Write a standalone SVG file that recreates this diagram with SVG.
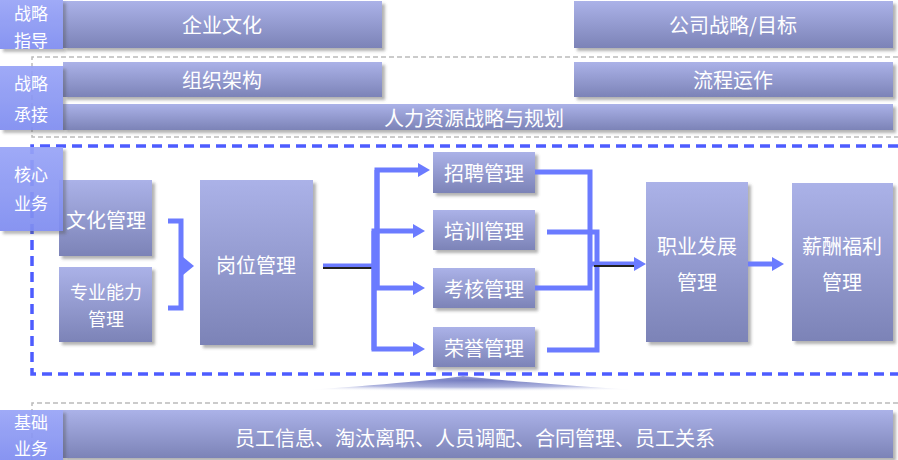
<svg xmlns="http://www.w3.org/2000/svg" width="898" height="460" viewBox="0 0 898 460">
<defs>
  <linearGradient id="gBox" x1="0" y1="0" x2="0" y2="1">
    <stop offset="0" stop-color="#abb2e8"/>
    <stop offset="1" stop-color="#7c83b7"/>
  </linearGradient>
  <linearGradient id="gLbl" x1="0" y1="0" x2="0" y2="1">
    <stop offset="0" stop-color="#97a3f7"/>
    <stop offset="1" stop-color="#7e8cf0"/>
  </linearGradient>
  <radialGradient id="gTri" cx="0.5" cy="0.2" r="0.55">
    <stop offset="0" stop-color="#747cc0" stop-opacity="1"/>
    <stop offset="0.6" stop-color="#9fa6d8" stop-opacity="0.85"/>
    <stop offset="1" stop-color="#ffffff" stop-opacity="0"/>
  </radialGradient>
  <filter id="sh" x="-10%" y="-10%" width="130%" height="130%">
    <feDropShadow dx="3" dy="3" stdDeviation="1.5" flood-color="#555" flood-opacity="0.45"/>
  </filter>
  <marker id="ah" markerUnits="userSpaceOnUse" markerWidth="12" markerHeight="14" viewBox="0 0 12 14" refX="0" refY="7" orient="auto">
    <path d="M0,0 L12,7 L0,14 z" fill="#6b7bff"/>
  </marker>
</defs>
<style>
  .box{fill:url(#gBox);filter:url(#sh)}
  .lbl{fill:url(#gLbl);filter:url(#sh);opacity:.92}
  .t{font-family:"Noto Sans CJK SC","Noto Sans",sans-serif;fill:#fff;font-size:20px;text-anchor:middle;dominant-baseline:central}
  .tl{font-size:17px}
  .ts{font-size:18px}
  .c{fill:none;stroke:#6b7bff;stroke-width:5}
  .ca{fill:none;stroke:#6b7bff;stroke-width:5;marker-end:url(#ah)}
  .dk{fill:none;stroke:#222;stroke-width:2}
  .gd{fill:none;stroke:#bbb;stroke-width:1.5;stroke-dasharray:5 3}
  .bd{fill:none;stroke:#4d5cff;stroke-width:3.5;stroke-dasharray:10 6}
</style>

<g id="frames">
  <path class="gd" d="M898,57 H32 V137 H898"/>
  <path class="gd" d="M898,403 H32 V460"/>
  <path class="bd" d="M898,146 H32 V374 H898"/>
  <path d="M195,397 Q400,385 463,376 Q540,385 748,397 Z" fill="url(#gTri)"/>
</g>

<g id="n-qywh"><rect class="box" x="63" y="1" width="319" height="47"/><text class="t" x="222" y="24">企业文化</text></g>
<g id="n-gszl"><rect class="box" x="574" y="1" width="319" height="47"/><text class="t" x="733" y="24">公司战略/目标</text></g>
<g id="n-zzjg"><rect class="box" x="63" y="62" width="319" height="35"/><text class="t" x="222" y="79">组织架构</text></g>
<g id="n-lcyz"><rect class="box" x="574" y="62" width="319" height="35"/><text class="t" x="733" y="79">流程运作</text></g>
<g id="n-rlzy"><rect class="box" x="63" y="104" width="830" height="26"/><text class="t" x="474" y="117">人力资源战略与规划</text></g>

<g id="n-whgl"><rect class="box" x="59" y="180" width="93" height="76"/><text class="t" x="106" y="219">文化管理</text></g>
<g id="n-zynl"><rect class="box" x="59" y="267" width="93" height="75"/><text class="t ts" x="106" y="291">专业能力</text><text class="t ts" x="106" y="318">管理</text></g>
<g id="n-gwgl"><rect class="box" x="200" y="180" width="113" height="165"/><text class="t" x="256" y="264">岗位管理</text></g>
<g id="n-zpgl"><rect class="box" x="433" y="152" width="102" height="41"/><text class="t" x="484" y="172">招聘管理</text></g>
<g id="n-pxgl"><rect class="box" x="433" y="210" width="102" height="40"/><text class="t" x="484" y="230">培训管理</text></g>
<g id="n-khgl"><rect class="box" x="433" y="268" width="102" height="40"/><text class="t" x="484" y="288">考核管理</text></g>
<g id="n-rygl"><rect class="box" x="433" y="327" width="102" height="40"/><text class="t" x="484" y="347">荣誉管理</text></g>
<g id="n-zyfz"><rect class="box" x="646" y="182" width="102" height="160"/><text class="t" x="697" y="245">职业发展</text><text class="t" x="697" y="281">管理</text></g>
<g id="n-xcfl"><rect class="box" x="792" y="183" width="101" height="158"/><text class="t" x="842" y="245">薪酬福利</text><text class="t" x="842" y="281">管理</text></g>
<g id="n-jcyw"><rect class="box" x="63" y="410" width="830" height="48"/><text class="t" x="475" y="437">员工信息、淘汰离职、人员调配、合同管理、员工关系</text></g>

<g id="connectors">
  <path class="c" d="M168,221 H181 V308 H168"/>
  <polygon points="183,257 194,266 183,275" fill="#6b7bff"/>
  <path class="c" d="M323,266 H377"/>
  <path class="dk" d="M323,268 H375"/>
  <path class="ca" d="M377,288 V170 H418"/>
  <path class="ca" d="M377,170 V288 H413"/>
  <path class="ca" d="M374,350 V231 H413"/>
  <path class="ca" d="M374,231 V349 H413"/>
  <path class="c" d="M535,172 H590 V288 H535"/>
  <path class="c" d="M547,232 H597 V350 H547"/>
  <path class="ca" d="M592,264 H634"/>
  <path class="dk" d="M594,266 H634"/>
  <path class="ca" d="M748,264 H772"/>
</g>

<g id="labels">
  <g id="l-zlzd"><rect class="lbl" x="0" y="0" width="63" height="49"/><text class="t tl" x="31" y="12">战略</text><text class="t tl" x="31" y="39">指导</text></g>
  <g id="l-zlcj"><rect class="lbl" x="0" y="66" width="63" height="64"/><text class="t tl" x="31" y="82">战略</text><text class="t tl" x="31" y="113">承接</text></g>
  <g id="l-hxyw"><rect class="lbl" x="0" y="147" width="63" height="84"/><text class="t tl" x="31" y="173">核心</text><text class="t tl" x="31" y="202">业务</text></g>
  <g id="l-jcyw"><rect class="lbl" x="0" y="410" width="63" height="50"/><text class="t tl" x="31" y="421">基础</text><text class="t tl" x="31" y="447">业务</text></g>
</g>
</svg>
